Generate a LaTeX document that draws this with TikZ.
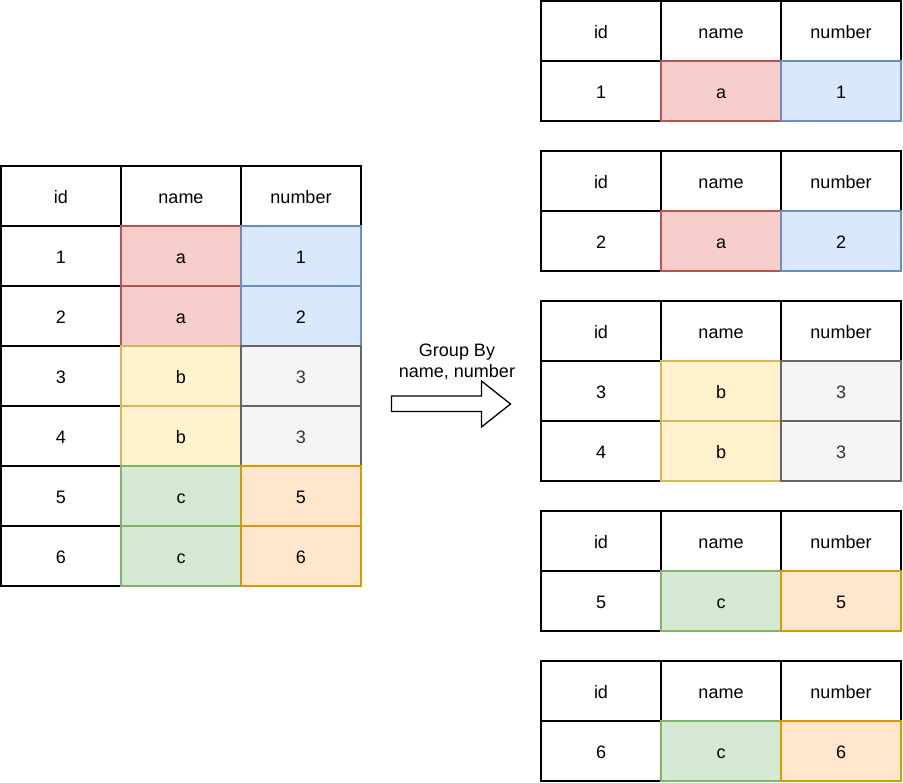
\documentclass[tikz,border=0pt]{standalone}
\usepackage{fontspec}
\setmainfont{Liberation Sans}
\definecolor{redF}{HTML}{F8CECC}\definecolor{redD}{HTML}{B85450}
\definecolor{bluF}{HTML}{DAE8FC}\definecolor{bluD}{HTML}{6C8EBF}
\definecolor{yelF}{HTML}{FFF2CC}\definecolor{yelD}{HTML}{D6B656}
\definecolor{gryF}{HTML}{F5F5F5}\definecolor{gryD}{HTML}{666666}\definecolor{gryT}{HTML}{333333}
\definecolor{grnF}{HTML}{D5E8D4}\definecolor{grnD}{HTML}{82B366}
\definecolor{orgF}{HTML}{FFE6CC}\definecolor{orgD}{HTML}{D79B00}
\tikzset{
  cell/.style={draw=black, fill=white, line width=1.3pt, minimum width=120pt, minimum height=60pt,
    inner sep=0pt, outer sep=0pt, font=\fontsize{18pt}{21pt}\selectfont, text=black,
    text height=17pt, text depth=2pt},
  plain/.style={},
  red/.style={fill=redF, draw=redD},
  blu/.style={fill=bluF, draw=bluD},
  yel/.style={fill=yelF, draw=yelD},
  gry/.style={fill=gryF, draw=gryD, text=gryT},
  grn/.style={fill=grnF, draw=grnD},
  org/.style={fill=orgF, draw=orgD},
  blockarrow/.style={draw=black, fill=white, line width=1.3pt, line join=miter},
  lbl/.style={font=\fontsize{18pt}{21pt}\selectfont, inner sep=0pt, align=center}
}
% \cellat{name}{left x}{top y}{style}{text}
\newcommand{\cellat}[5]{\node[cell,#4] (#1) at ({#2+60pt},{-(#3)-30pt}) {#5};}
% \tbrow{prefix}{x}{y}{id}{name}{number}{namestyle}{numstyle}
\newcommand{\tbrow}[8]{%
  \cellat{#1-id}{#2}{#3}{plain}{#4}%
  \cellat{#1-name}{#2+120}{#3}{#7}{#5}%
  \cellat{#1-num}{#2+240}{#3}{#8}{#6}}
\begin{document}
\begin{tikzpicture}[x=1pt,y=1pt]
\useasboundingbox (0,0) rectangle (903,-783);
% left table
\tbrow{Lh}{1}{166}{id}{name}{number}{plain}{plain}
\tbrow{L1}{1}{226}{1}{a}{1}{red}{blu}
\tbrow{L2}{1}{286}{2}{a}{2}{red}{blu}
\tbrow{L3}{1}{346}{3}{b}{3}{yel}{gry}
\tbrow{L4}{1}{406}{4}{b}{3}{yel}{gry}
\tbrow{L5}{1}{466}{5}{c}{5}{grn}{org}
\tbrow{L6}{1}{526}{6}{c}{6}{grn}{org}
% right tables
\tbrow{Ah}{541}{1}{id}{name}{number}{plain}{plain}
\tbrow{A1}{541}{61}{1}{a}{1}{red}{blu}
\tbrow{Bh}{541}{151}{id}{name}{number}{plain}{plain}
\tbrow{B1}{541}{211}{2}{a}{2}{red}{blu}
\tbrow{Ch}{541}{301}{id}{name}{number}{plain}{plain}
\tbrow{C1}{541}{361}{3}{b}{3}{yel}{gry}
\tbrow{C2}{541}{421}{4}{b}{3}{yel}{gry}
\tbrow{Dh}{541}{511}{id}{name}{number}{plain}{plain}
\tbrow{D1}{541}{571}{5}{c}{5}{grn}{org}
\tbrow{Eh}{541}{661}{id}{name}{number}{plain}{plain}
\tbrow{E1}{541}{721}{6}{c}{6}{grn}{org}
% block arrow
\draw[blockarrow] (391.5,-396) -- (481.5,-396) -- (481.5,-381) -- (510.5,-404) -- (481.5,-427) -- (481.5,-411.5) -- (391.5,-411.5) -- cycle;
\node[lbl] (label) at (457,-362) {Group By\\name, number};
\end{tikzpicture}
\end{document}
